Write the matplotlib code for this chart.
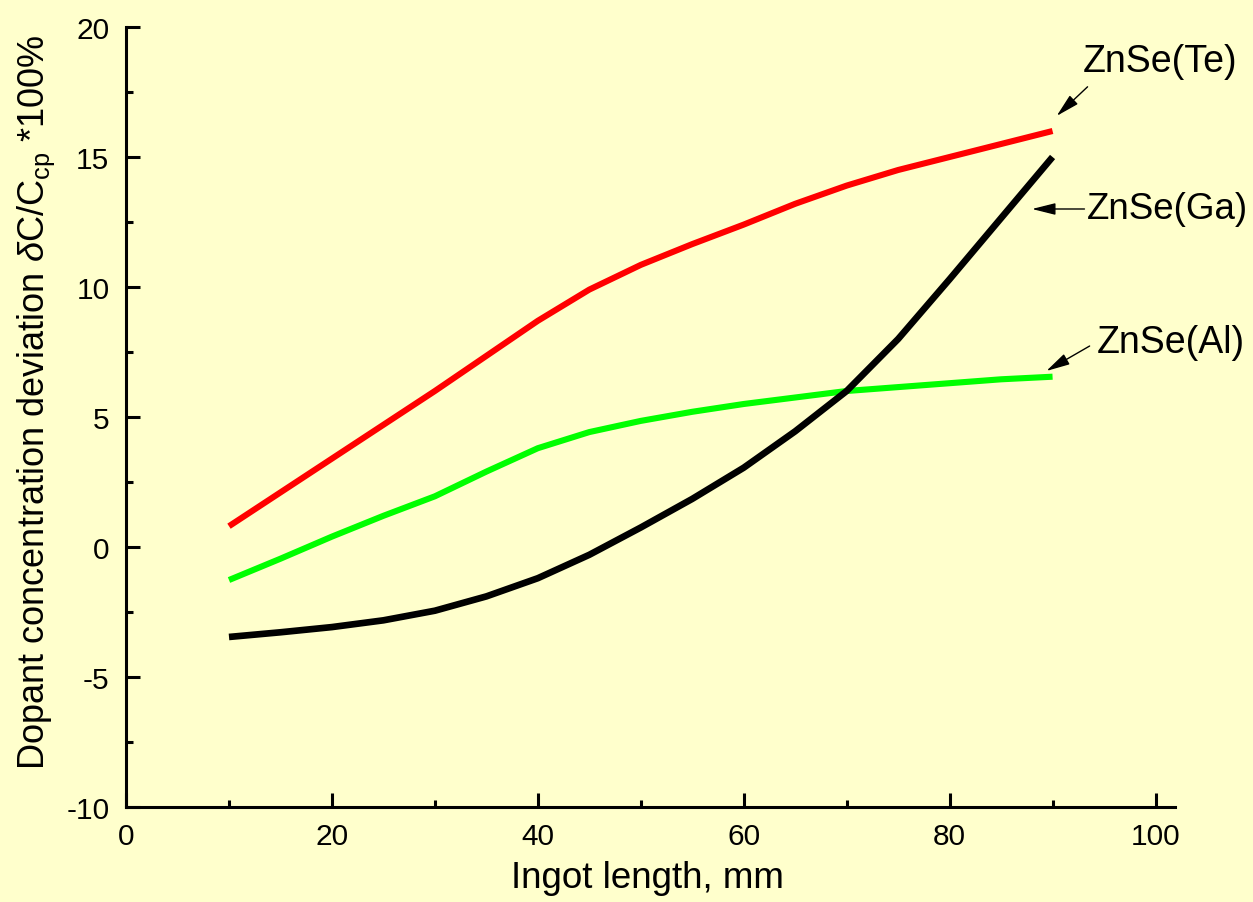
"""
Dopant concentration deviation along the ZnSe ingot for three dopants.
Writes out.png (1253x903).
"""
import matplotlib
matplotlib.use("Agg")
import matplotlib.pyplot as plt
from matplotlib.ticker import MultipleLocator

# Ingot length, mm
length_mm = [10, 15, 20, 25, 30, 35, 40, 45, 50, 55, 60, 65, 70, 75, 80, 85, 90]

# delta C / C_cp * 100 %
znse_te = [0.8, 2.1, 3.4, 4.7, 6.0, 7.35, 8.7, 9.9, 10.85, 11.65, 12.4,
           13.2, 13.9, 14.5, 15.0, 15.5, 16.0]
znse_al = [-1.27, -0.45, 0.4, 1.2, 1.95, 2.9, 3.8, 4.42, 4.85, 5.2, 5.5,
           5.75, 6.0, 6.15, 6.3, 6.45, 6.55]
znse_ga = [-3.46, -3.28, -3.08, -2.82, -2.45, -1.9, -1.2, -0.3, 0.75, 1.85,
           3.05, 4.45, 6.0, 8.0, 10.3, 12.65, 15.0]

BG = "#FFFFCC"

plt.rcParams.update({
    "font.family": ["Liberation Sans", "DejaVu Sans"],
    "mathtext.fontset": "custom",
    "mathtext.rm": "Liberation Sans",
    "mathtext.it": "Liberation Sans:italic",
    "axes.unicode_minus": False,
    "font.size": 21,
})

fig = plt.figure(figsize=(12.53, 9.03), dpi=100, facecolor=BG)
ax = fig.add_axes([0.1006, 0.1052, 0.8372, 0.8638], facecolor=BG)

for vals, col, lw in [(znse_te, "#FF0000", 4.4), (znse_al, "#00FF00", 4.4),
                      (znse_ga, "black", 4.8)]:
    ax.plot(length_mm, vals, color=col, lw=lw, solid_capstyle="butt",
            solid_joinstyle="round")

ax.set_xlim(0, 101.9)
ax.set_ylim(-10, 20)
ax.xaxis.set_major_locator(MultipleLocator(20))
ax.xaxis.set_minor_locator(MultipleLocator(10))
ax.yaxis.set_major_locator(MultipleLocator(5))
ax.yaxis.set_minor_locator(MultipleLocator(2.5))

for side in ("top", "right"):
    ax.spines[side].set_visible(False)
for side in ("left", "bottom"):
    ax.spines[side].set_linewidth(2.2)

ax.tick_params(which="major", direction="in", length=10, width=2.2,
               labelsize=21.5, pad=12)
ax.tick_params(which="minor", direction="in", length=5, width=2.2)
ax.tick_params(axis="x", which="major", pad=11)

ax.set_xlabel("Ingot length, mm", fontsize=26.5)
ax.xaxis.set_label_coords(0.4967, -0.068)
ax.set_ylabel(r"Dopant concentration deviation $\delta$C/C$_{\rm cp}$ *100%",
              fontsize=26, va="center")
ax.yaxis.set_label_coords(-0.086, 0.52)

arrow = dict(arrowstyle="-|>,head_length=0.9,head_width=0.225",
             color="black", lw=1.0, mutation_scale=16, shrinkA=0, shrinkB=0)

# ZnSe(Te)
ax.annotate("", xy=(90.4, 16.58), xytext=(93.4, 17.7), arrowprops=arrow,
            annotation_clip=False)
ax.text(92.9, 18.7, "ZnSe(Te)", fontsize=27, ha="left", va="center")
# ZnSe(Ga)
ax.annotate("", xy=(88.0, 13.0), xytext=(93.1, 13.0), arrowprops=arrow,
            annotation_clip=False)
ax.text(93.3, 13.0, "ZnSe(Ga)", fontsize=26.5, ha="left", va="center")
# ZnSe(Al)
ax.annotate("", xy=(89.4, 6.77), xytext=(93.6, 7.73), arrowprops=arrow,
            annotation_clip=False)
ax.text(94.3, 7.9, "ZnSe(Al)", fontsize=27, ha="left", va="center")

fig.savefig("out.png", dpi=100, facecolor=BG)
